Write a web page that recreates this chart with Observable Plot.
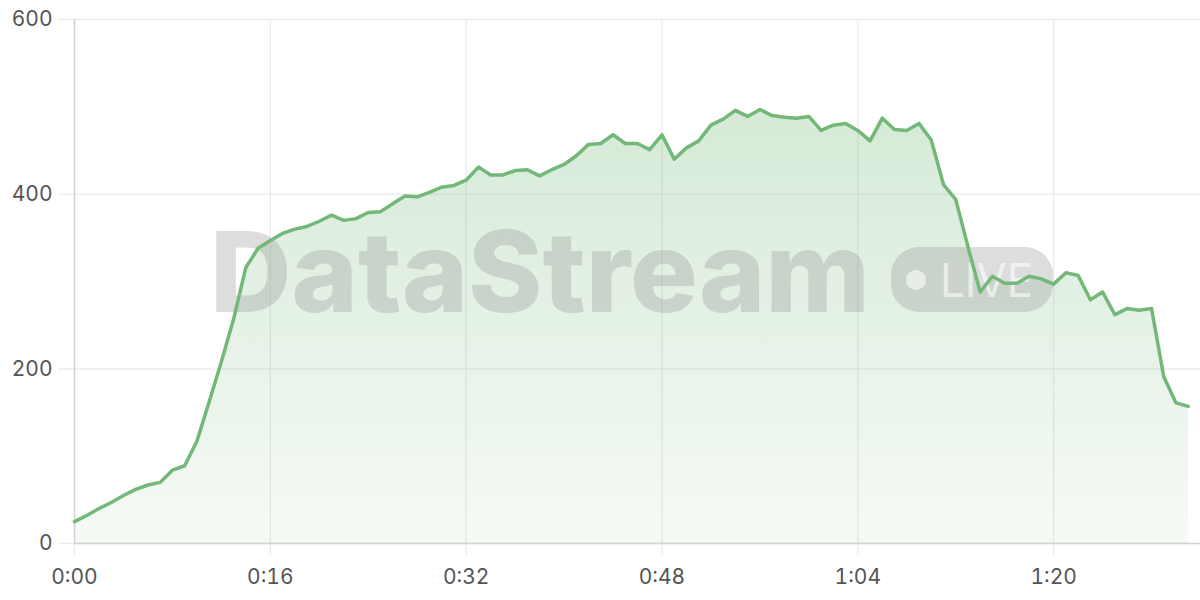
<!DOCTYPE html>
<html>
<head>
<meta charset="utf-8">
<script src="https://cdn.jsdelivr.net/npm/d3@7"></script>
<script src="https://cdn.jsdelivr.net/npm/@observablehq/plot@0.6"></script>
<style>
  html, body { margin: 0; padding: 0; background: #fff; }
  #chart { width: 1200px; height: 600px; }
</style>
</head>
<body>
<div id="chart"></div>
<script>
// seconds since start
const seconds = d3.range(0, 92);
// sampled values, one per second
const values = [
  25, 32, 40, 47, 55, 62, 67, 70, 84, 89,
  117, 162, 208, 257, 316, 338, 347, 355, 360, 363,
  369, 376, 370, 372, 379, 380, 389, 398, 397, 402,
  408, 410, 416, 431, 422, 422, 427, 428, 421, 428,
  434, 444, 457, 458, 468, 458, 458, 451, 468, 440,
  453, 461, 479, 486, 496, 489, 497, 490, 488, 487,
  489, 473, 479, 481, 473, 461, 487, 474, 473, 481,
  462, 411, 394, 340, 288, 306, 298, 298, 306, 303,
  297, 310, 307, 279, 288, 262, 269, 267, 269, 191,
  161, 157
];
const xTicks = [0, 16, 32, 48, 64, 80];
const yTicks = [0, 200, 400, 600];
const watermarkText = "DataStream";
const watermarkBadge = "LIVE";

const data = seconds.map((t, i) => ({t, v: values[i]}));
const fmt = s => `${Math.floor(s / 60)}:${String(s % 60).padStart(2, "0")}`;

const lineColor = "#73b878";
const gridColor = "#ebebeb";
const axisColor = "#d2d2d2";
const labelColor = "#555";

function defs() {
  const d = d3.create("svg:defs");
  const g = d.append("linearGradient").attr("id", "areaGrad")
    .attr("x1", 0).attr("y1", 0).attr("x2", 0).attr("y2", 1);
  g.append("stop").attr("offset", "0%").attr("stop-color", lineColor).attr("stop-opacity", 0.3);
  g.append("stop").attr("offset", "100%").attr("stop-color", lineColor).attr("stop-opacity", 0.07);
  return d.node();
}

function watermark(index, scales, values, dims) {
  const cx = dims.marginLeft + (dims.width - dims.marginLeft - dims.marginRight) / 2;
  const cy = dims.marginTop + (dims.height - dims.marginTop - dims.marginBottom) / 2;
  const g = d3.create("svg:g").attr("pointer-events", "none").attr("text-anchor", "start");
  g.append("text")
    .attr("x", cx - 427).attr("y", cy + 31)
    .attr("text-anchor", "start")
    .attr("font-family", "Inter, 'Open Sans', sans-serif")
    .attr("font-weight", 800)
    .attr("font-size", 112)
    .attr("textLength", 660).attr("lengthAdjust", "spacingAndGlyphs")
    .attr("fill", "#999").attr("fill-opacity", 0.33)
    .text(watermarkText);
  g.append("rect")
    .attr("x", cx + 254).attr("y", cy - 34)
    .attr("width", 162).attr("height", 65).attr("rx", 28)
    .attr("fill", "#999").attr("fill-opacity", 0.33);
  g.append("circle")
    .attr("cx", cx + 279).attr("cy", cy - 1).attr("r", 10)
    .attr("fill", "#fff").attr("fill-opacity", 0.6);
  g.append("text")
    .attr("x", cx + 303).attr("y", cy + 16)
    .attr("text-anchor", "start")
    .attr("font-family", "Inter, 'Open Sans', sans-serif")
    .attr("font-weight", 400)
    .attr("font-size", 46)
    .attr("textLength", 93).attr("lengthAdjust", "spacingAndGlyphs")
    .attr("fill", "#fff").attr("fill-opacity", 0.6)
    .text(watermarkBadge);
  return g.node();
}

const chart = Plot.plot({
  width: 1200,
  height: 600,
  marginLeft: 74,
  marginRight: 0,
  marginTop: 19,
  marginBottom: 57,
  style: {fontFamily: "Inter, 'Open Sans', sans-serif", fontSize: "21px", background: "#fff"},
  x: {domain: [0, 92]},
  y: {domain: [0, 600]},
  marks: [
    defs,
    Plot.gridY(yTicks, {stroke: gridColor, strokeOpacity: 1, strokeWidth: 1.3}),
    Plot.gridX(xTicks, {stroke: gridColor, strokeOpacity: 1, strokeWidth: 1.3}),
    Plot.axisY(yTicks, {tickSize: 16, tickPadding: 6, stroke: gridColor, strokeWidth: 1.3, fill: labelColor, fontSize: 21, label: null}),
    Plot.axisX(xTicks, {tickSize: 12, tickPadding: 14, stroke: gridColor, strokeWidth: 1.3, fill: labelColor, fontSize: 21, tickFormat: fmt, label: null}),
    Plot.areaY(data, {x: "t", y: "v", fill: "url(#areaGrad)"}),
    watermark,
    Plot.ruleX([0], {stroke: axisColor, strokeWidth: 1.5}),
    Plot.ruleY([0], {stroke: axisColor, strokeWidth: 1.5}),
    Plot.lineY(data, {x: "t", y: "v", stroke: lineColor, strokeWidth: 3.5, strokeLinejoin: "round"})
  ]
});
document.getElementById("chart").appendChild(chart);
</script>
</body>
</html>
